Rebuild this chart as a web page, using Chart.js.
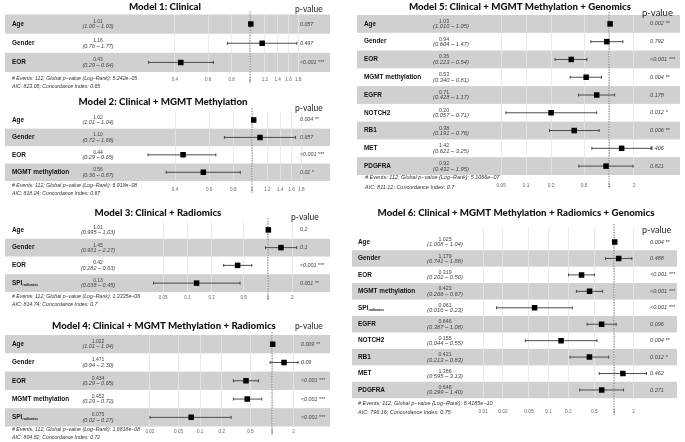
<!DOCTYPE html>
<html><head><meta charset="utf-8">
<script src="https://cdn.jsdelivr.net/npm/chart.js@4.4.0/dist/chart.umd.min.js"></script>
<style>
html,body{margin:0;padding:0;background:#fff;}
body{width:685px;height:442px;position:relative;overflow:hidden;}
canvas{position:absolute;}
</style></head><body>
<script>
// ---------------- DATA ----------------
const m1Title = 'Model 1: Clinical';
const m1Vars = ['Age','Gender','EOR'];
const m1HR = ['1.01','1.16','0.43'];
const m1Low = ['1.00','0.76','0.29'];
const m1High = ['1.03','1.77','0.64'];
const m1P = ['0.057','0.497','<0.001 ***'];
const m1Ticks = [0.4,0.6,0.8,1,1.2,1.4,1.6,1.8];
const m1Footer = ['# Events: 112; Global p\u2212value (Log\u2212Rank): 5.242e\u221205','AIC: 823.05; Concordance Index: 0.65'];

const m2Title = 'Model 2: Clinical + MGMT Methylation';
const m2Vars = ['Age','Gender','EOR','MGMT methylation'];
const m2HR = ['1.02','1.10','0.44','0.56'];
const m2Low = ['1.01','0.72','0.29','0.36'];
const m2High = ['1.04','1.68','0.65','0.87'];
const m2P = ['0.004 **','0.657','<0.001 ***','0.01 *'];
const m2Ticks = [0.4,0.6,0.8,1,1.2,1.4,1.6,1.8];
const m2Footer = ['# Events: 112; Global p\u2212value (Log\u2212Rank): 6.918e\u221208','AIC: 818.24; Concordance Index: 0.67'];

const m3Title = 'Model 3: Clinical + Radiomics';
const m3Vars = ['Age','Gender','EOR','SPI_radiomics'];
const m3HR = ['1.01','1.45','0.42','0.13'];
const m3Low = ['0.995','0.931','0.282','0.038'];
const m3High = ['1.03','2.27','0.63','0.45'];
const m3P = ['0.2','0.1','<0.001 ***','0.001 **'];
const m3Ticks = [0.05,0.1,0.2,0.5,1,2];
const m3Footer = ['# Events: 112; Global p\u2212value (Log\u2212Rank): 1.3335e\u221206','AIC: 814.74; Concordance Index: 0.7'];

const m4Title = 'Model 4: Clinical + MGMT Methylation + Radiomics';
const m4Vars = ['Age','Gender','EOR','MGMT methylation','SPI_radiomics'];
const m4HR = ['1.022','1.471','0.434','0.452','0.075'];
const m4Low = ['1.01','0.94','0.29','0.29','0.02'];
const m4High = ['1.04','2.30','0.65','0.72','0.27'];
const m4P = ['0.009 **','0.09','<0.001 ***','<0.001 ***','<0.001 ***'];
const m4Ticks = [0.02,0.05,0.1,0.2,0.5,1,2];
const m4Footer = ['# Events: 112; Global p\u2212value (Log\u2212Rank): 1.6818e\u221208','AIC: 804.82; Concordance Index: 0.72'];

const m5Title = 'Model 5: Clinical + MGMT Methylation + Genomics';
const m5Vars = ['Age','Gender','EOR','MGMT methylation','EGFR','NOTCH2','RB1','MET','PDGFRA'];
const m5HR = ['1.03','0.94','0.35','0.53','0.71','0.20','0.38','1.42','0.92'];
const m5Low = ['1.010','0.604','0.223','0.340','0.428','0.057','0.191','0.621','0.432'];
const m5High = ['1.05','1.47','0.54','0.81','1.17','0.71','0.76','3.25','1.95'];
const m5P = ['0.002 **','0.792','<0.001 ***','0.004 **','0.178','0.012 *','0.006 **','0.406','0.821'];
const m5Ticks = [0.05,0.1,0.2,0.5,1,2];
const m5Footer = ['# Events: 112; Global p\u2212value (Log\u2212Rank): 5.1066e\u221207','AIC: 811.12; Concordance Index: 0.7'];

const m6Title = 'Model 6: Clinical + MGMT Methylation + Radiomics + Genomics';
const m6Vars = ['Age','Gender','EOR','MGMT methylation','SPI_radiomics','EGFR','NOTCH2','RB1','MET','PDGFRA'];
const m6HR = ['1.025','1.179','0.319','0.423','0.061','0.646','0.155','0.421','1.366','0.648'];
const m6Low = ['1.008','0.741','0.202','0.266','0.016','0.387','0.044','0.213','0.595','0.299'];
const m6High = ['1.04','1.88','0.50','0.67','0.23','1.08','0.55','0.83','3.13','1.40'];
const m6P = ['0.004 **','0.488','<0.001 ***','<0.001 ***','<0.001 ***','0.096','0.004 **','0.012 *','0.462','0.271'];
const m6Ticks = [0.01,0.02,0.05,0.1,0.2,0.5,1,2];
const m6Footer = ['# Events: 112; Global p\u2212value (Log\u2212Rank): 8.4185e\u221210','AIC: 796.16; Concordance Index: 0.75'];

// ---------------- LAYOUT ----------------
const panels = [
 {d:{title:m1Title,vars:m1Vars,hr:m1HR,lo:m1Low,hi:m1High,p:m1P,ticks:m1Ticks,foot:m1Footer},
  x:0,y:0,w:335,h:95, l:145,r:300,t:14.5,b:72,min:0.278,max:1.84,padTop:0,
  tX:165,tY:7,pvX:295,pvY:9.5,pvSize:8.5,bandL:5,bandR:330,nameX:12,hrX:98,ciX:98,pX:300,footX:12,footY:[79,86.5],tickY:80,fs:1},
 {d:{title:m2Title,vars:m2Vars,hr:m2HR,lo:m2Low,hi:m2High,p:m2P,ticks:m2Ticks,foot:m2Footer},
  x:0,y:95,w:335,h:110, l:145,r:304,t:111.25,b:181,min:0.2797,max:1.857,padTop:0,
  tX:163,tY:102,pvX:295,pvY:108,pvSize:8.5,bandL:5,bandR:330,nameX:12,hrX:98,ciX:98,pX:300,footX:12,footY:[186,193.5],tickY:190,fs:1},
 {d:{title:m3Title,vars:m3Vars,hr:m3HR,lo:m3Low,hi:m3High,p:m3P,ticks:m3Ticks,foot:m3Footer},
  x:0,y:205,w:335,h:113, l:145,r:300,t:221,b:292,min:0.0298,max:2.495,padTop:0,
  tX:158,tY:213,pvX:291,pvY:217,pvSize:8.5,bandL:5,bandR:330,nameX:12,hrX:98,ciX:98,pX:300,footX:12,footY:[297,304.5],tickY:298,fs:1},
 {d:{title:m4Title,vars:m4Vars,hr:m4HR,lo:m4Low,hi:m4High,p:m4P,ticks:m4Ticks,foot:m4Footer},
  x:0,y:318,w:335,h:124, l:145,r:300,t:335,b:426.5,min:0.01707,max:2.453,padTop:0,
  tX:164,tY:326,pvX:295,pvY:326,pvSize:8.5,bandL:5,bandR:330,nameX:12,hrX:98,ciX:98,pX:301,footX:12,footY:[430,438],tickY:432,fs:1},
 {d:{title:m5Title,vars:m5Vars,hr:m5HR,lo:m5Low,hi:m5High,p:m5P,ticks:m5Ticks,foot:m5Footer},
  x:340,y:0,w:345,h:200, l:495,r:652,t:15,b:175,min:0.0421,max:3.30,padTop:0,
  tX:520,tY:7,pvX:642,pvY:13,pvSize:9.5,bandL:357,bandR:680,nameX:364,hrX:444,ciX:451,pX:650,footX:365,footY:[177,187],tickY:186,fs:1.05},
 {d:{title:m6Title,vars:m6Vars,hr:m6HR,lo:m6Low,hi:m6High,p:m6P,ticks:m6Ticks,foot:m6Footer},
  x:340,y:200,w:345,h:242, l:480,r:648,t:227,b:398.2,min:0.00893,max:3.31,padTop:0.414,
  tX:516,tY:213,pvX:642,pvY:230,pvSize:9,bandL:352,bandR:677,nameX:358,hrX:445,ciX:445,pX:650,footX:358,footY:[403,412],tickY:412,fs:1.05}
];

const SANS = '"Liberation Sans", Arial, sans-serif';
const TITLE_FONT = 'Lato, "Open Sans", sans-serif';

function buildPanel(cfg, idx) {
  const d = cfg.d;
  const n = d.vars.length;
  const cv = document.createElement('canvas');
  cv.width = cfg.w; cv.height = cfg.h;
  cv.style.left = cfg.x + 'px'; cv.style.top = cfg.y + 'px';
  cv.style.width = cfg.w + 'px'; cv.style.height = cfg.h + 'px';
  document.body.appendChild(cv);
  const ox = cfg.x, oy = cfg.y;
  const tickFont = 4.6 * cfg.fs;
  const axisH = cfg.tickY - cfg.b + 6;

  const plugin = {
    id: 'forest' + idx,
    beforeDraw(chart) {
      const ctx = chart.ctx, ys = chart.scales.y;
      ctx.save();
      ctx.fillStyle = '#d0d0d0';
      for (let i = 0; i < n; i++) {
        if ((n - 1 - i) % 2 !== 0) continue;
        const a = ys.getPixelForValue(i - 0.5), b = ys.getPixelForValue(i + 0.5);
        ctx.fillRect(cfg.bandL - ox, Math.min(a, b), cfg.bandR - cfg.bandL, Math.abs(b - a));
      }
      ctx.restore();
    },
    beforeDatasetsDraw(chart) {
      const ctx = chart.ctx, xs = chart.scales.x, ys = chart.scales.y;
      ctx.save();
      ctx.strokeStyle = '#3a3a3a';
      ctx.lineWidth = 0.9;
      for (let i = 0; i < n; i++) {
        const y = ys.getPixelForValue(i);
        const x0 = xs.getPixelForValue(Number(d.lo[i]));
        const x1 = xs.getPixelForValue(Number(d.hi[i]));
        ctx.beginPath();
        ctx.moveTo(x0, y); ctx.lineTo(x1, y);
        ctx.moveTo(x0, y - 1.5); ctx.lineTo(x0, y + 1.5);
        ctx.moveTo(x1, y - 1.5); ctx.lineTo(x1, y + 1.5);
        ctx.stroke();
      }
      // reference line at HR = 1
      const x1p = xs.getPixelForValue(1);
      ctx.strokeStyle = '#555';
      ctx.lineWidth = 0.8;
      ctx.setLineDash([1.3, 1.3]);
      ctx.beginPath();
      ctx.moveTo(x1p, chart.chartArea.top - 3);
      ctx.lineTo(x1p, chart.chartArea.bottom + (cfg.tickY - cfg.b) + 3);
      ctx.stroke();
      ctx.restore();
    },
    afterDraw(chart) {
      const ctx = chart.ctx, ys = chart.scales.y;
      ctx.save();
      // title
      ctx.fillStyle = '#111';
      ctx.textAlign = 'center'; ctx.textBaseline = 'middle';
      ctx.font = '900 9.7px ' + TITLE_FONT;
      ctx.fillText(d.title, cfg.tX - ox, cfg.tY - oy);
      // p-value header
      ctx.textAlign = 'left';
      ctx.font = cfg.pvSize + 'px ' + TITLE_FONT;
      ctx.fillStyle = '#222';
      ctx.fillText('p-value', cfg.pvX - ox, cfg.pvY - oy);
      for (let i = 0; i < n; i++) {
        const y = ys.getPixelForValue(i);
        // variable name
        const name = d.vars[i];
        ctx.fillStyle = '#111';
        ctx.textAlign = 'left';
        ctx.font = 'bold 6.4px ' + SANS;
        if (name.indexOf('_') >= 0) {
          const parts = name.split('_');
          ctx.fillText(parts[0], cfg.nameX - ox, y);
          const w = ctx.measureText(parts[0]).width;
          ctx.font = 'bold 3.3px ' + SANS;
          ctx.fillText(parts[1], cfg.nameX - ox + w + 0.3, y + 2);
        } else {
          ctx.fillText(name, cfg.nameX - ox, y);
        }
        // HR and CI
        ctx.fillStyle = '#444';
        ctx.textAlign = 'center';
        ctx.font = (5 * cfg.fs) + 'px ' + SANS;
        ctx.fillText(d.hr[i], cfg.hrX - ox, y - 2.4);
        ctx.font = 'italic ' + (5.5 * cfg.fs) + 'px ' + SANS;
        ctx.fillText('(' + d.lo[i] + ' \u2013 ' + d.hi[i] + ')', cfg.ciX - ox, y + 2.8);
        // p-value
        ctx.textAlign = 'left';
        ctx.font = 'italic ' + (5.3 * cfg.fs) + 'px ' + SANS;
        ctx.fillText(d.p[i], cfg.pX - ox, y);
      }
      // footer
      ctx.fillStyle = '#333';
      ctx.textAlign = 'left';
      ctx.font = 'italic ' + (5.2 * cfg.fs) + 'px ' + SANS;
      ctx.fillText(d.foot[0], cfg.footX - ox, cfg.footY[0] - oy);
      ctx.fillText(d.foot[1], cfg.footX - ox, cfg.footY[1] - oy);
      ctx.restore();
    }
  };

  const tickVals = d.ticks;
  new Chart(cv, {
    type: 'scatter',
    data: {
      datasets: [{
        data: d.hr.map((v, i) => ({x: Number(v), y: i})),
        pointStyle: 'rect',
        pointRadius: 3.9,
        pointHoverRadius: 3.9,
        backgroundColor: '#000',
        borderColor: '#000',
        borderWidth: 0
      }]
    },
    options: {
      responsive: false,
      animation: false,
      events: [],
      layout: {padding: {left: cfg.l - ox, right: (ox + cfg.w) - cfg.r, top: cfg.t - oy, bottom: (oy + cfg.h) - cfg.b - axisH}},
      plugins: {legend: {display: false}, tooltip: {enabled: false}, title: {display: false}},
      scales: {
        x: {
          type: 'logarithmic',
          min: cfg.min, max: cfg.max,
          bounds: 'data',
          afterBuildTicks(scale) { scale.ticks = tickVals.map(v => ({value: v})); },
          afterFit(scale) { scale.height = axisH; },
          grid: {color: '#e6e6e6', lineWidth: 0.8, drawTicks: false},
          border: {display: false},
          ticks: {
            autoSkip: false, maxRotation: 0, minRotation: 0,
            padding: Math.max(0, cfg.tickY - cfg.b - tickFont / 2 - 0.5),
            color: '#666',
            font: {size: tickFont, family: SANS},
            callback: (v) => String(v)
          }
        },
        y: {
          type: 'linear', display: false, reverse: true,
          min: -0.5 - cfg.padTop, max: n - 0.5
        }
      }
    },
    plugins: [plugin]
  });
}

panels.forEach(buildPanel);
</script>
</body></html>
